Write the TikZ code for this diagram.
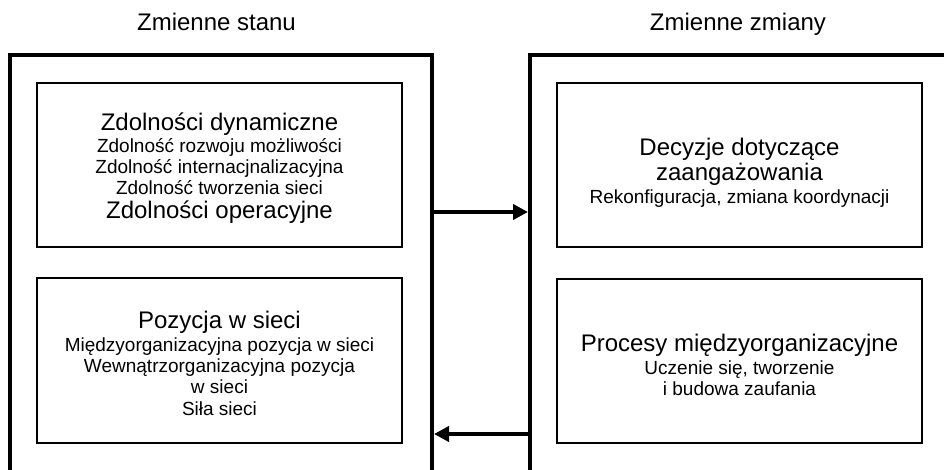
\documentclass[tikz,border=0pt]{standalone}
\usepackage{fontspec}
\setmainfont{Liberation Sans}
\usetikzlibrary{arrows.meta}
\newcommand\lrg{\fontsize{24}{24}\selectfont}
\newcommand\sml{\fontsize{19}{21}\selectfont\lineskiplimit-50pt\relax}
\begin{document}
\begin{tikzpicture}[x=1pt,y=-1pt,
  group/.style={draw, line width=4pt, minimum width=422pt, minimum height=545pt, inner sep=0pt},
  item/.style={draw, line width=2.8pt, minimum width=365pt, minimum height=164pt, inner sep=0pt},
  itemtext/.style={inner sep=0pt, align=center, font=\sml},
  flow/.style={line width=4pt, -{Triangle[length=15pt,width=15pt]}},
  title/.style={font=\lrg, anchor=base}
]
\useasboundingbox (0,0) rectangle (944,470);

% column titles
\node[title] (T1) at (216.5,31) {Zmienne stanu};
\node[title] (T2) at (738,31) {Zmienne zmiany};

% the two open frames run past the lower (and right) edge
\begin{scope}
  \clip (0,0) rectangle (944,470);
  \node[group] (L) at (221,327.5) {};
  \node[group, minimum width=500pt] (R) at (780,327.5) {};
\end{scope}

% state variables
\node[item] (B1) at (219.5,165) {};
\node[itemtext, yshift=-3pt] (B1t) at (B1.center) {{\lrg Zdolności dynamiczne}\\[1.5pt]
  Zdolność rozwoju możliwości\\
  Zdolność internacjnalizacyjna\\
  Zdolność tworzenia sieci\\[3pt]
  {\lrg Zdolności operacyjne}};
\node[item, minimum height=165pt] (B2) at (219.5,360.5) {};
\node[itemtext, yshift=-3pt] (B2t) at (B2.center) {{\lrg Pozycja w sieci}\\[2pt]
  Międzyorganizacyjna pozycja w sieci\\
  Wewnątrzorganizacyjna pozycja\\
  w sieci\\[1pt]
  Siła sieci};

% change variables
\node[item] (B3) at (739.5,165) {};
\node[itemtext, yshift=-7.5pt] (B3t) at (B3.center) {{\lrg Decyzje dotyczące}\\[4pt]
  {\lrg zaangażowania}\\[2pt]
  Rekonfiguracja, zmiana koordynacji};
\node[item] (B4) at (739.5,361) {};
\node[itemtext, yshift=-3.5pt] (B4t) at (B4.center) {{\lrg Procesy międzyorganizacyjne}\\[2pt]
  Uczenie się, tworzenie\\
  i budowa zaufania};

% feedback between the frames
\coordinate (a1) at (0,212);
\coordinate (a2) at (0,434);
\draw[flow] (L.east |- a1) -- (R.west |- a1);
\draw[flow] (R.west |- a2) -- (L.east |- a2);
\end{tikzpicture}
\end{document}
